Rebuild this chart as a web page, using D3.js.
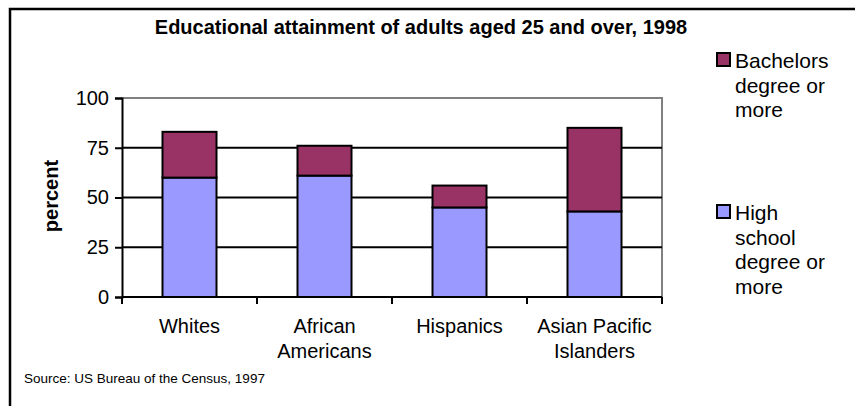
<!DOCTYPE html>
<html>
<head>
<meta charset="utf-8">
<script src="https://cdn.jsdelivr.net/npm/d3@7"></script>
<style>
  html, body { margin: 0; padding: 0; background: #fff; }
  svg { display: block; font-family: Arial, "Liberation Sans", sans-serif; }
</style>
</head>
<body>
<svg id="chart" width="855" height="406"></svg>
<script>
// Educational attainment, percent of adults 25+
const categories = [["Whites"], ["African", "Americans"], ["Hispanics"], ["Asian Pacific", "Islanders"]];
const highSchool = [60, 61, 45, 43];
const bachelors = [23, 15, 11, 42];
const yTicks = [0, 25, 50, 75, 100];
const seriesNames = [
  ["Bachelors", "degree or", "more"],
  ["High", "school", "degree or", "more"]
];
const colors = { hs: "#9999ff", ba: "#993366" };

const svg = d3.select("#chart");

// outer frame (top and left edges)
svg.append("path")
  .attr("d", "M10,406 V9 H855")
  .attr("fill", "none").attr("stroke", "#000").attr("stroke-width", 2.5);

// title
svg.append("text")
  .attr("x", 421).attr("y", 34)
  .attr("text-anchor", "middle")
  .attr("font-weight", "bold").attr("font-size", 20)
  .text("Educational attainment of adults aged 25 and over, 1998");

const plot = { left: 122, right: 662, top: 98, bottom: 297 };
const keys = categories.map((c, i) => i);

const x = d3.scaleBand().domain(keys).range([plot.left, plot.right])
  .paddingInner(0.6).paddingOuter(0.3);
const y = d3.scaleLinear().domain([0, 100]).range([plot.bottom, plot.top]);

// plot border (grey top and right)
svg.append("path")
  .attr("d", `M${plot.left},${y(100)} H${plot.right} V${plot.bottom}`)
  .attr("fill", "none").attr("stroke", "#808080").attr("stroke-width", 2);

// horizontal gridlines
svg.append("g").selectAll("line")
  .data(yTicks.filter(t => t > 0 && t < 100))
  .join("line")
  .attr("x1", plot.left).attr("x2", plot.right)
  .attr("y1", d => y(d)).attr("y2", d => y(d))
  .attr("stroke", "#000").attr("stroke-width", 2);

// stacked bars
const stackData = keys.map(i => ({ i, hs: highSchool[i], ba: bachelors[i] }));
const stack = d3.stack().keys(["hs", "ba"])(stackData);
svg.append("g").selectAll("g")
  .data(stack)
  .join("g")
  .attr("fill", d => colors[d.key])
  .selectAll("rect")
  .data(d => d)
  .join("rect")
  .attr("x", d => x(d.data.i))
  .attr("width", x.bandwidth())
  .attr("y", d => y(d[1]))
  .attr("height", d => y(d[0]) - y(d[1]))
  .attr("stroke", "#000").attr("stroke-width", 2);

// y axis
const yAxis = svg.append("g")
  .attr("transform", `translate(${plot.left},0)`)
  .call(d3.axisLeft(y).tickValues(yTicks).tickSize(7).tickPadding(6));
yAxis.select(".domain").attr("stroke", "#000").attr("stroke-width", 2);
yAxis.selectAll(".tick line").attr("stroke", "#000").attr("stroke-width", 2);
yAxis.selectAll(".tick text").attr("font-size", 20).attr("fill", "#000")
  .attr("font-family", "Arial, 'Liberation Sans', sans-serif");

// x axis with ticks at category boundaries
const edgeTicks = [plot.left, ...keys.slice(1).map(i => (x(i - 1) + x.bandwidth() + x(i)) / 2), plot.right];
const xa = svg.append("g");
xa.append("line")
  .attr("x1", plot.left).attr("x2", plot.right)
  .attr("y1", plot.bottom).attr("y2", plot.bottom)
  .attr("stroke", "#000").attr("stroke-width", 2);
xa.selectAll("line.tk").data(edgeTicks).join("line").attr("class", "tk")
  .attr("x1", d => d).attr("x2", d => d)
  .attr("y1", plot.bottom).attr("y2", plot.bottom + 7)
  .attr("stroke", "#000").attr("stroke-width", 2);

// category labels
xa.selectAll("text.cat").data(keys).join("text").attr("class", "cat")
  .attr("text-anchor", "middle").attr("font-size", 20)
  .attr("x", i => x(i) + x.bandwidth() / 2)
  .attr("y", 333)
  .each(function (i) {
    d3.select(this).selectAll("tspan").data(categories[i]).join("tspan")
      .attr("x", x(i) + x.bandwidth() / 2)
      .attr("dy", (d, k) => k === 0 ? 0 : 25)
      .text(d => d);
  });

// y axis title
svg.append("text")
  .attr("transform", `translate(58,196) rotate(-90)`)
  .attr("text-anchor", "middle")
  .attr("font-weight", "bold").attr("font-size", 20)
  .text("percent");

// legend
const legendRows = [
  { color: colors.ba, lines: seriesNames[0], top: 53 },
  { color: colors.hs, lines: seriesNames[1], top: 205 }
];
const lg = svg.append("g").selectAll("g").data(legendRows).join("g");
lg.append("rect")
  .attr("x", 717).attr("y", d => d.top)
  .attr("width", 13).attr("height", 13)
  .attr("fill", d => d.color).attr("stroke", "#000").attr("stroke-width", 2);
lg.append("text")
  .attr("font-size", 21)
  .attr("y", d => d.top + 15)
  .each(function (d) {
    d3.select(this).selectAll("tspan").data(d.lines).join("tspan")
      .attr("x", 735)
      .attr("dy", (t, k) => k === 0 ? 0 : 24.7)
      .text(t => t);
  });

// source note
svg.append("text")
  .attr("x", 24).attr("y", 383)
  .attr("font-size", 13.5)
  .text("Source:  US Bureau of the Census, 1997");
</script>
</body>
</html>
